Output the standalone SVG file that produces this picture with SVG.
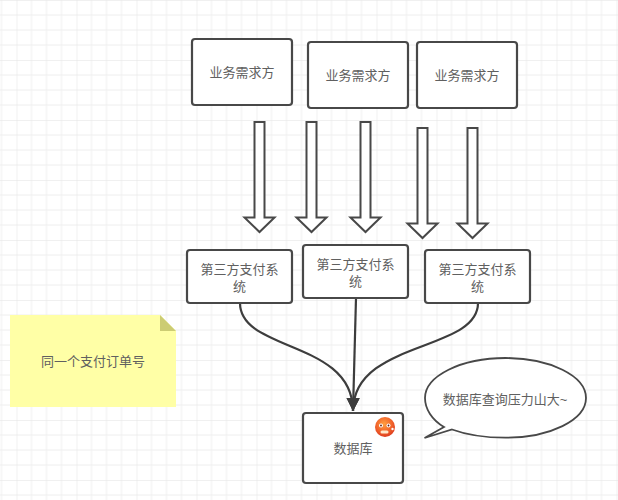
<svg xmlns="http://www.w3.org/2000/svg" width="618" height="500" viewBox="0 0 618 500">
<defs>
<pattern id="grid" width="60" height="60" patternUnits="userSpaceOnUse" patternTransform="translate(16.5 0)">
<path d="M15 0V60M30 0V60M45 0V60M0 15H60M0 30H60M0 45H60" fill="none" stroke="#eeeeee" stroke-width="1"/>
<path d="M0 0V60M0 0H60" fill="none" stroke="#e2e2e2" stroke-width="1"/>
</pattern>
<marker id="tri" markerUnits="userSpaceOnUse" markerWidth="14" markerHeight="15" refX="13" refY="6.500" orient="auto"><path d="M0 0L13 6.500L0 13Z" fill="#3d3d3d"/></marker>
<radialGradient id="face" cx="0.45" cy="0.35" r="0.7"><stop offset="0" stop-color="#ffa040"/><stop offset="0.6" stop-color="#f0602a"/><stop offset="1" stop-color="#d9341c"/></radialGradient>
<path id="blk" d="M-5 0H5V95.500H15L0 110L-15 95.500H-5Z"/>
</defs>
<style>
.box{fill:#fff;stroke:#484848;stroke-width:2.200}
.t{font-family:"Liberation Sans","Noto Sans CJK SC",sans-serif;font-size:13px;fill:#606060;text-anchor:middle;dominant-baseline:central}
.arrow{fill:#fff;stroke:#484848;stroke-width:2;stroke-linejoin:miter}
.curve{fill:none;stroke:#3d3d3d;stroke-width:2.200}
</style>
<rect width="618" height="500" fill="#fff"/>
<rect width="618" height="500" fill="url(#grid)"/>
<g id="connectors">
<use href="#blk" class="arrow" x="259.500" y="122"/>
<use href="#blk" class="arrow" x="311.500" y="122"/>
<use href="#blk" class="arrow" x="365.500" y="122"/>
<use href="#blk" class="arrow" x="422.500" y="128"/>
<use href="#blk" class="arrow" x="472.500" y="128"/>
<path class="curve" d="M240 303C240 352 353 340 353 411" marker-end="url(#tri)"/>
<path class="curve" d="M356 298L353 411" marker-end="url(#tri)"/>
<path class="curve" d="M478 303C478 352 353 340 353 411" marker-end="url(#tri)"/>
</g>
<g id="req1"><rect class="box" x="192" y="39" width="100" height="66" rx="3"/><text class="t" x="242" y="72">业务需求方</text></g>
<g id="req2"><rect class="box" x="308" y="42" width="100" height="66" rx="3"/><text class="t" x="358" y="75">业务需求方</text></g>
<g id="req3"><rect class="box" x="417" y="42" width="100" height="66" rx="3"/><text class="t" x="467" y="75">业务需求方</text></g>
<g id="pay1"><rect class="box" x="187" y="250" width="105" height="53" rx="3"/><text class="t" x="239.500" y="269">第三方支付系</text><text class="t" x="239.500" y="286">统</text></g>
<g id="pay2"><rect class="box" x="303" y="245" width="105" height="53" rx="3"/><text class="t" x="355.500" y="264">第三方支付系</text><text class="t" x="355.500" y="281">统</text></g>
<g id="pay3"><rect class="box" x="425" y="250" width="105" height="53" rx="3"/><text class="t" x="477.500" y="269">第三方支付系</text><text class="t" x="477.500" y="286">统</text></g>
<g id="db"><rect class="box" x="303" y="413" width="100" height="70" rx="3"/><text class="t" x="353" y="448">数据库</text>
<circle cx="385" cy="427" r="10" fill="url(#face)"/>
<circle cx="381" cy="425.500" r="2" fill="#fff"/><circle cx="388.500" cy="425.500" r="2" fill="#fff"/>
<circle cx="381" cy="425.500" r="0.900" fill="#5a1a10"/><circle cx="388.500" cy="425.500" r="0.900" fill="#5a1a10"/>
<rect x="380.500" y="430.500" width="8" height="3" rx="1.500" fill="#ffe6c8"/>
<circle cx="392.500" cy="429" r="1.200" fill="#fff"/></g>
<g id="note"><path d="M10 315H160L176 331V407H10Z" fill="#ffffa6"/><path d="M160 315L176 331H160Z" fill="#cccc73"/><text class="t" x="93" y="361">同一个支付订单号</text></g>
<g id="callout"><path d="M424.500 438L444 427C432 420 425 409 425 398C425 376 461 358 505.500 358C550 358 586 376 586 398C586 420 550 437.700 505.500 437.700C485 437.700 467 435 452 429.500Z" fill="#fff" stroke="#484848" stroke-width="1.800"/><text class="t" x="505" y="399">数据库查询压力山大~</text></g>
</svg>
